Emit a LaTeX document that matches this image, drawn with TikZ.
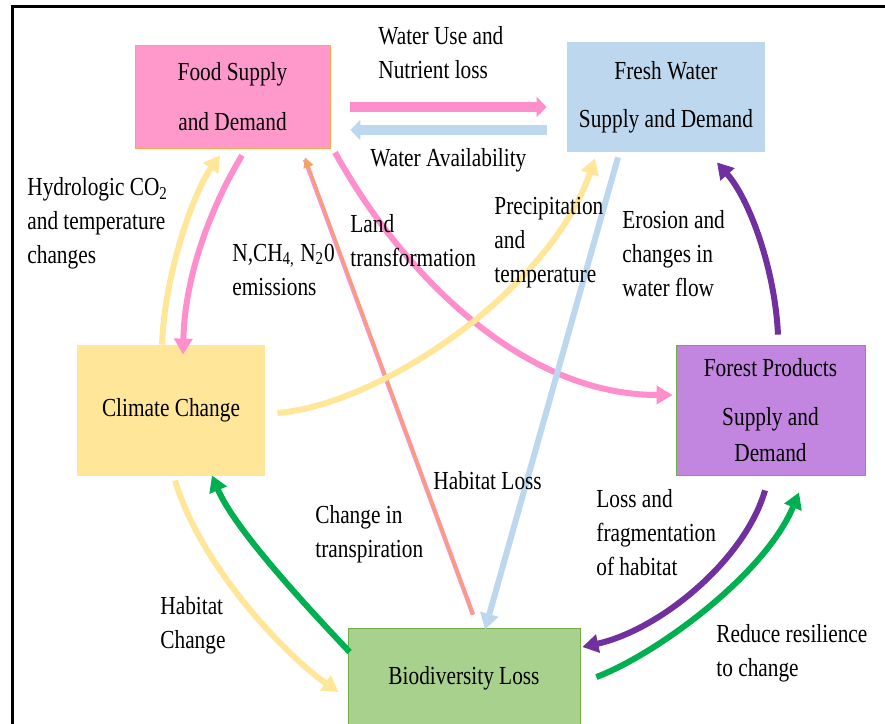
\documentclass[tikz,border=0pt]{standalone}
\usepackage{fontspec}
\setmainfont{Liberation Serif}[FakeStretch=0.82]
\usetikzlibrary{arrows.meta}

\definecolor{foodpink}{HTML}{FF99CC}
\definecolor{pinkline}{HTML}{FF8FCC}
\definecolor{waterblue}{HTML}{BDD7EE}
\definecolor{climateyellow}{HTML}{FFE699}
\definecolor{forestpurple}{HTML}{C285E0}
\definecolor{purpleline}{HTML}{7030A0}
\definecolor{biogreen}{HTML}{A9D18E}
\definecolor{bordergreen}{HTML}{70AD47}
\definecolor{greenline}{HTML}{00B050}
\definecolor{lossorange}{HTML}{F4A460}

\begin{document}
\begin{tikzpicture}[x=0.5pt, y=-0.5pt,
  box/.style={inner sep=0pt, align=center, font=\fontsize{13}{17}\selectfont},
  lbl/.style={inner sep=0pt, align=left, anchor=west, font=\fontsize{13}{17}\selectfont},
  flow/.style={line width=3pt, -{Triangle[length=8pt, width=9pt]}},
  bigflow/.style={line width=5pt, -{Triangle[length=5pt, width=10pt]}}]

\clip (0,0) rectangle (885,724);

% Frame
\draw[line width=1.5pt] (12,760) -- (12,6.5) -- (920,6.5);

% Boxes
\node[box, fill=foodpink, draw=orange!70, minimum width=97.5pt, minimum height=51.5pt] (food) at (232.5,96.5) {Food Supply\\[8pt]and Demand};
\node[box, fill=waterblue, minimum width=99pt, minimum height=55pt] (water) at (666,97) {Fresh Water\\[7pt]Supply and Demand};
\node[box, fill=climateyellow, minimum width=94pt, minimum height=65.5pt] (climate) at (171,410.5) {Climate Change};
\node[box, fill=forestpurple, draw=bordergreen, minimum width=94.5pt, minimum height=65pt] (forest) at (770.5,410) {Forest Products\\[7.5pt]Supply and\\[1pt]Demand};
\node[box, fill=biogreen, draw=bordergreen, minimum width=116pt, minimum height=50pt] (bio) at (464,678) {Biodiversity Loss};

% Straight arrows between food and water
\draw[bigflow, pinkline] ([shift={(20,10.5)}]food.east) -- ([shift={(-20,10)}]water.west);
\draw[bigflow, waterblue] ([shift={(-20,33)}]water.west) -- ([shift={(20,33.5)}]food.east);

% Climate and food
\draw[flow, climateyellow] ([shift={(-9,0)}]climate.north) .. controls (165,270) and (195,190) .. ([shift={(-12.5,7)}]food.south);
\draw[flow, pinkline] ([shift={(9.5,7)}]food.south) .. controls (215,200) and (185,270) .. ([shift={(12,10)}]climate.north);

% Habitat loss line
\draw[line width=2.2pt, pinkline] ([shift={(9,-13)}]bio.north) -- ([shift={(72.5,11)}]food.south);
\draw[line width=1pt, lossorange, -{Triangle[length=5pt, width=5pt]}] ([shift={(9,-13)}]bio.north) -- ([shift={(72.5,9)}]food.south);

% Food to forest, climate to water
\draw[flow, pinkline] ([shift={(102.5,4)}]food.south) .. controls (400,270) and (520,395) .. ([shift={(-3,-15)}]forest.west);
\draw[flow, climateyellow] ([shift={(12,2.5)}]climate.east) .. controls (380,405) and (550,290) .. ([shift={(-71,6)}]water.south);

% Water to biodiversity, forest to water
\draw[flow, waterblue] ([shift={(-48,5)}]water.south) -- ([shift={(21,2)}]bio.north);
\draw[flow, purpleline] ([shift={(7.5,-10)}]forest.north) .. controls (775,270) and (750,200) .. ([shift={(51,10)}]water.south);

% Biodiversity and climate
\draw[flow, greenline] ([shift={(2,-26)}]bio.west) .. controls (310,610) and (235,530) .. ([shift={(41,-1)}]climate.south);
\draw[flow, climateyellow] ([shift={(4,4)}]climate.south) .. controls (200,565) and (285,655) .. ([shift={(-9,14)}]bio.west);

% Biodiversity and forest
\draw[flow, purpleline] ([shift={(-5.5,15)}]forest.south) .. controls (745,560) and (660,630) .. ([shift={(2,-31)}]bio.east);
\draw[flow, greenline] ([shift={(16,-1)}]bio.east) .. controls (655,655) and (765,575) .. ([shift={(28.5,17)}]forest.south);

% Labels
\node[lbl] (wateruse) at (378,52.5) {Water Use and\\Nutrient loss};
\node[lbl] (avail) at (370,160) {Water Availability};
\node[lbl] (hydro) at (27,223) {Hydrologic CO\textsubscript{2}\\and temperature\\changes};
\node[lbl] (emis) at (232,269.5) {N,CH\textsubscript{4,} N\textsubscript{2}0\\emissions};
\node[lbl] (land) at (350,240.5) {Land\\transformation};
\node[lbl] (precip) at (494,243) {Precipitation\\and\\temperature};
\node[lbl] (erosion) at (622,254) {Erosion and\\changes in\\water flow};
\node[lbl] (habloss) at (433,481) {Habitat Loss};
\node[lbl] (transp) at (315,534) {Change in\\transpiration};
\node[lbl] (frag) at (596,533) {Loss and\\fragmentation\\of habitat};
\node[lbl] (habchange) at (160,625.5) {Habitat\\Change};
\node[lbl] (resil) at (716,653.5) {Reduce resilience\\to change};

\end{tikzpicture}
\end{document}
